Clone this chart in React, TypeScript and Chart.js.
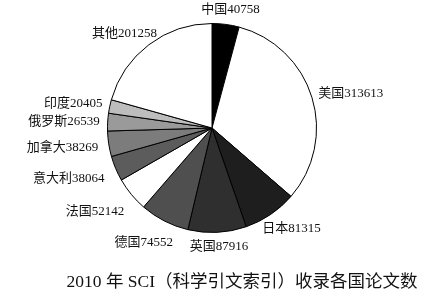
import React, { useEffect, useRef } from "react";
import { Chart, registerables } from "chart.js";

Chart.register(...registerables);

const countries = ["中国", "美国", "日本", "英国", "德国", "法国", "意大利", "加拿大", "俄罗斯", "印度", "其他"];
const papers = [40758, 313613, 81315, 87916, 74552, 52142, 38064, 38269, 26539, 20405, 201258];
const sliceColors = ["#000000", "#ffffff", "#1e1e1e", "#2f2f2f", "#4f4f4f", "#ffffff", "#5c5c5c", "#7c7c7c", "#9a9a9a", "#bdbdbd", "#ffffff"];
const titleText = "2010 年 SCI（科学引文索引）收录各国论文数";

const FONT = "'Liberation Serif', 'DejaVu Serif', 'Noto Sans CJK SC', serif";

const labelPlugin = {
  id: "outLabels",
  afterDraw(chart: any) {
    const ctx = chart.ctx;
    const meta = chart.getDatasetMeta(0);
    ctx.save();
    ctx.fillStyle = "#111";
    ctx.font = `13px ${FONT}`;
    ctx.textAlign = "center";
    ctx.textBaseline = "middle";
    meta.data.forEach((arc: any, i: number) => {
      const p = arc.getProps(["x", "y", "startAngle", "endAngle", "outerRadius"], true);
      const mid = (p.startAngle + p.endAngle) / 2;
      const s = Math.sin(mid);
      const c = Math.cos(mid);
      const r = p.outerRadius + 8 + 20 * Math.max(0, s) * Math.max(0, -c);
      const ax = p.x + c * r;
      const ay = p.y + s * r;
      const text = countries[i] + papers[i];
      const w = ctx.measureText(text).width;
      const h = 13;
      const cx = ax + c * w / 2;
      const cy = ay + s * h / 2 + 4 * Math.max(0, s) * Math.abs(c);
      ctx.fillText(text, cx, cy);
    });
    ctx.font = `17.5px ${FONT}`;
    ctx.fillStyle = "#111";
    ctx.fillText(titleText, 242, 282);
    ctx.restore();
  },
};

export default function App() {
  const ref = useRef<HTMLCanvasElement>(null);
  useEffect(() => {
    const chart = new Chart(ref.current!, {
      type: "pie",
      data: {
        labels: countries,
        datasets: [
          {
            data: papers,
            backgroundColor: sliceColors,
            borderColor: "#000",
            borderWidth: 1,
          },
        ],
      },
      options: {
        responsive: false,
        animation: false,
        layout: { padding: { top: 23, bottom: 65, left: 107, right: 105 } },
        plugins: { legend: { display: false }, tooltip: { enabled: false }, title: { display: false } },
      },
      plugins: [labelPlugin],
    });
    return () => chart.destroy();
  }, []);
  return (
    <div style={{ position: "fixed", left: 0, top: 0, width: 422, height: 298, background: "#fff" }}>
      <canvas ref={ref} width={422} height={298} />
    </div>
  );
}
